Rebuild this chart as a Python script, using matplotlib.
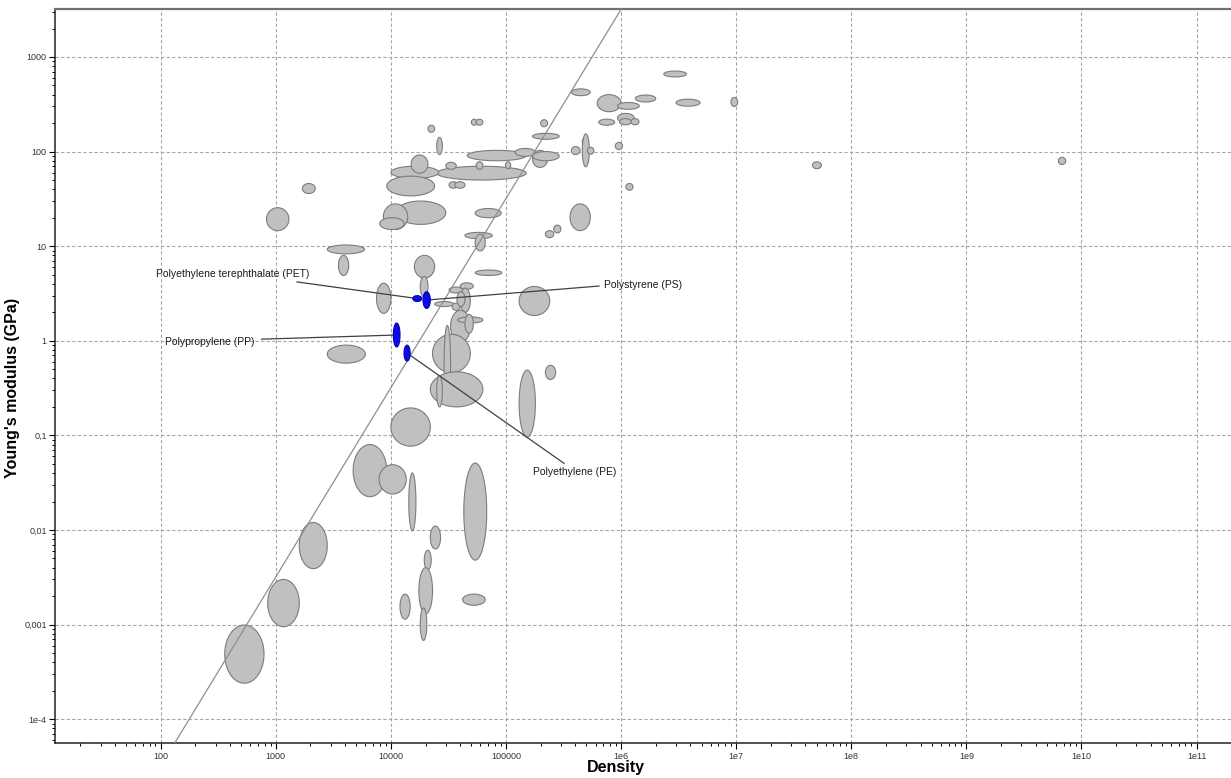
"""Young's modulus vs density bubble chart (log-log), polymers highlighted."""
import numpy as np
import matplotlib
matplotlib.use('Agg')
import matplotlib.pyplot as plt

plt.rcParams['font.family'] = ['Liberation Sans', 'DejaVu Sans']

# ── Data: property ranges (density lo/hi, modulus lo/hi in GPa) ────────────
density_lo = [2.1e4, 5.0e4, 5.5e4, 2.0e5, 1.7e5, 2.5e4, 4.6e4, 1.2e5, 1.7e5, 1.7e5,
              8.2e4, 2.5e4, 5.5e4, 9.9e4, 3.0e4, 3.2e4, 3.6e4, 1.0e4, 1.5e4, 9.2e3,
              1.1e4, 8.6e3, 8.0e3, 5.4e4, 4.4e4, 5.4e4, 2.2e5, 2.6e5, 1.6e4, 1.8e4,
              5.4e4, 7.5e3, 3.2e4, 4.0e4, 4.0e4, 2.4e4, 3.4e4, 3.75e4, 1.3e5, 3.3e4,
              3.8e4, 4.4e4, 2.3e4, 2.9e4, 2.2e4, 2.5e4, 2.2e5, 1.3e5, 1.0e4, 2.8e3,
              4.7e3, 7.9e3, 1.43e4, 2.2e4, 4.3e4, 1.6e3, 850, 360, 1.95e4, 1.75e4,
              1.2e4, 1.8e4, 4.2e4, 1.7e3, 830, 2.8e3, 3.5e3, 3.7e5, 6.2e5, 9.3e5,
              1.33e6, 2.35e6, 3.0e6, 9.0e6, 6.4e5, 9.3e5, 9.7e5, 1.22e6, 3.7e5, 4.6e5,
              4.6e5, 5.1e5, 8.9e5, 1.1e6, 3.6e5, 4.6e7, 6.3e9]
density_hi = [2.4e4, 5.6e4, 6.3e4, 2.3e5, 2.9e5, 2.8e4, 1.5e5, 1.8e5, 2.3e5, 2.9e5,
              1.4e5, 1.5e5, 6.3e4, 1.1e5, 3.7e4, 3.8e4, 4.4e4, 2.6e4, 2.1e4, 2.4e4,
              3.0e4, 1.4e4, 1.3e4, 9.1e4, 7.6e4, 6.6e4, 2.6e5, 3.0e5, 2.4e4, 2.1e4,
              9.2e4, 1.0e4, 4.2e4, 5.2e4, 4.9e4, 3.5e4, 4.0e4, 4.4e4, 2.4e5, 4.9e4,
              6.3e4, 5.2e4, 4.9e4, 3.3e4, 6.3e4, 2.8e4, 2.7e5, 1.8e5, 2.2e4, 6.0e3,
              9.2e3, 1.36e4, 1.65e4, 2.7e4, 6.8e4, 2.8e3, 1.6e3, 790, 2.24e4, 2.3e4,
              1.47e4, 2.05e4, 6.6e4, 2.2e3, 1.3e3, 5.9e3, 4.3e3, 5.4e5, 1.0e6, 1.44e6,
              2.0e6, 3.7e6, 4.85e6, 1.03e7, 8.8e5, 1.3e6, 1.23e6, 1.43e6, 4.4e5, 5.2e5,
              5.3e5, 5.8e5, 1.03e6, 1.27e6, 5.4e5, 5.5e7, 7.3e9]
modulus_lo = [160, 190, 190, 183, 135, 93, 80, 89, 68, 80,
              57, 50, 65, 66, 65, 41, 41, 52, 59, 34,
              17, 15, 15, 20, 12, 8.9, 12.3, 13.8, 4.6, 2.9,
              4.9, 1.95, 3.2, 3.5, 2.0, 2.3, 2.1, 2.3, 1.85, 0.96,
              1.54, 1.2, 0.46, 0.23, 0.2, 0.2, 0.39, 0.096, 0.077, 0.58,
              0.0225, 0.024, 0.0098, 0.0063, 0.0048, 0.0039, 0.00095, 0.00024, 0.0038, 0.0013,
              0.00114, 0.00068, 0.0016, 36, 14.6, 8.3, 4.9, 390, 264, 280,
              334, 615, 302, 300, 190, 203, 192, 192, 93, 117,
              69, 94, 105, 39, 14.6, 66, 73]
modulus_hi = [190, 220, 220, 217, 156, 141, 103, 108, 103, 100,
              66, 70, 78, 78, 77, 48, 48, 70, 92, 55,
              30, 28, 20, 25, 14, 13.4, 14.6, 16.7, 8.0, 4.8,
              5.6, 4.06, 3.7, 4.1, 3.6, 2.6, 2.5, 3.3, 3.75, 2.1,
              1.79, 1.9, 1.17, 1.45, 0.47, 0.43, 0.55, 0.49, 0.195, 0.9,
              0.08, 0.049, 0.04, 0.011, 0.051, 0.012, 0.003, 0.00099, 0.0061, 0.004,
              0.0021, 0.0015, 0.0021, 46, 25.5, 10.3, 8.0, 460, 400, 330,
              396, 710, 358, 373, 220, 253, 223, 223, 113, 139,
              154, 111, 125, 46, 28, 78, 87]

# highlighted polymers
polymer_names = ['Polyethylene terephthalate (PET)', 'Polystyrene (PS)',
                 'Polypropylene (PP)', 'Polyethylene (PE)']
polymer_density_lo = [1.55e4, 1.9e4, 1.05e4, 1.3e4]
polymer_density_hi = [1.85e4, 2.2e4, 1.2e4, 1.47e4]
polymer_modulus_lo = [2.6, 2.2, 0.86, 0.61]
polymer_modulus_hi = [3.0, 3.3, 1.54, 0.9]

# axis ticks
x_ticks = [1e2, 1e3, 1e4, 1e5, 1e6, 1e7, 1e8, 1e9, 1e10, 1e11]
x_ticklabels = ['100', '1000', '10000', '100000', '1e6', '1e7', '1e8', '1e9',
                '1e10', '1e11']
y_ticks = [1e-4, 1e-3, 1e-2, 1e-1, 1, 10, 100, 1000]
y_ticklabels = ['1e-4', '0,001', '0,01', '0,1', '1', '10', '100', '1000']

# guide line: E = k * rho^2
guide_slope = 2.0
guide_logk = -8.496

# ── Layout ─────────────────────────────────────────────────────────────────
fig = plt.figure(figsize=(12.31, 7.78), dpi=100)
ax = fig.add_axes([55 / 1231, 1 - 743.3 / 778, 1 - 55 / 1231, (743.3 - 9.3) / 778])
ax.set_xscale('log')
ax.set_yscale('log')
ax.set_xlim(10 ** 1.0817, 10 ** 11.299)
ax.set_ylim(10 ** -4.255, 10 ** 3.504)

ax.grid(True, which='major', color='#a6a6a6', linestyle=(0, (3, 2)), lw=0.8)
ax.set_axisbelow(True)

t = np.linspace(0, 2 * np.pi, 120)


def ellipse(xlo, xhi, ylo, yhi, fc, ec, z):
    lx0, lx1 = np.log10(xlo), np.log10(xhi)
    ly0, ly1 = np.log10(ylo), np.log10(yhi)
    cx, rx = (lx0 + lx1) / 2, (lx1 - lx0) / 2
    cy, ry = (ly0 + ly1) / 2, (ly1 - ly0) / 2
    ax.fill(10 ** (cx + rx * np.cos(t)), 10 ** (cy + ry * np.sin(t)),
            facecolor=fc, edgecolor=ec, lw=0.8, zorder=z)


for xl, xh, yl, yh in zip(density_lo, density_hi, modulus_lo, modulus_hi):
    ellipse(xl, xh, yl, yh, '#c0c0c0', '#7c7c7c', 3)

# guide line
gx = np.array([10.0, 1e8])
ax.plot(gx, 10 ** (guide_logk + guide_slope * np.log10(gx)),
        color='#8f8f8f', lw=0.9, zorder=4)

# ── Polymer labels ─────────────────────────────────────────────────────────
label_pos = [(91, 5.08), (7.1e5, 3.89), (109, 0.97), (1.72e5, 0.041)]
leader_start = [(1.53e3, 4.19), (6.43e5, 3.79), (753, 1.04), (3.19e5, 0.0507)]

for i, name in enumerate(polymer_names):
    cxp = np.sqrt(polymer_density_lo[i] * polymer_density_hi[i])
    cyp = np.sqrt(polymer_modulus_lo[i] * polymer_modulus_hi[i])
    sx, sy = leader_start[i]
    ax.plot([sx, cxp], [sy, cyp], color='#404040', lw=0.9, zorder=5)
    ax.text(label_pos[i][0], label_pos[i][1], name, ha='left', va='center',
            fontsize=7.5, color='#1a1a1a', zorder=7)
    ellipse(polymer_density_lo[i], polymer_density_hi[i],
            polymer_modulus_lo[i], polymer_modulus_hi[i], '#0c0ce8', '#0000b0', 6)

# ── Axes styling ───────────────────────────────────────────────────────────
ax.set_xticks(x_ticks, x_ticklabels)
ax.set_yticks(y_ticks, y_ticklabels)
ax.xaxis.set_minor_locator(matplotlib.ticker.LogLocator(base=10, subs=np.arange(2, 10), numticks=30))
ax.yaxis.set_minor_locator(matplotlib.ticker.LogLocator(base=10, subs=np.arange(2, 10), numticks=30))
ax.xaxis.set_minor_formatter(matplotlib.ticker.NullFormatter())
ax.yaxis.set_minor_formatter(matplotlib.ticker.NullFormatter())
ax.tick_params(which='major', direction='out', length=4, width=0.8,
               labelsize=6.5, labelcolor='#333333', pad=2)
ax.tick_params(which='minor', direction='out', length=2, width=0.7)

ax.spines['right'].set_visible(False)
ax.spines['left'].set_color('#222222')
ax.spines['bottom'].set_color('#222222')
ax.spines['left'].set_linewidth(1.1)
ax.spines['bottom'].set_linewidth(1.1)
ax.spines['top'].set_color('#707070')
ax.spines['top'].set_linewidth(1.6)

ax.set_xlabel('Density', fontsize=11.5, fontweight='bold')
ax.set_ylabel("Young's modulus (GPa)", fontsize=11.5, fontweight='bold')
ax.xaxis.set_label_coords((616 - 55) / (1231 - 55), -0.023)
ax.yaxis.set_label_coords(-0.03, (743.3 - 388) / (743.3 - 9.3))

fig.savefig('out.png', dpi=100, facecolor='white')
